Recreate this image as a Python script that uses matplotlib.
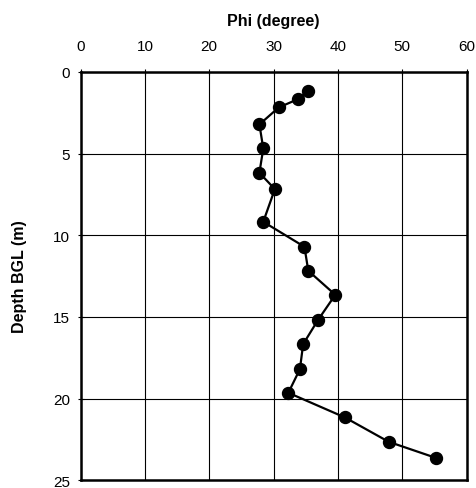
import matplotlib
matplotlib.use("Agg")
import matplotlib.pyplot as plt

plt.rcParams['font.family'] = ['Liberation Sans', 'DejaVu Sans']

phi = [35.4, 33.8, 30.8, 27.8, 28.4, 27.8, 30.2, 28.4, 34.8, 35.4,
       39.6, 36.9, 34.6, 34.1, 32.3, 41.1, 47.9, 55.2]
depth = [1.16, 1.67, 2.18, 3.22, 4.69, 6.18, 7.18, 9.18, 10.71, 12.18,
         13.65, 15.2, 16.67, 18.2, 19.65, 21.16, 22.65, 23.63]

xticks = [0, 10, 20, 30, 40, 50, 60]
yticks = [0, 5, 10, 15, 20, 25]

fig = plt.figure(figsize=(4.77, 4.89), dpi=100)
ax = fig.add_axes([0.169, 0.016, 0.809, 0.835])

ax.plot(phi, depth, color='black', lw=1.6, marker='o', ms=8.6, zorder=3)

ax.set_xlim(0, 60)
ax.set_ylim(25, 0)
ax.set_xticks(xticks)
ax.set_yticks(yticks)
ax.xaxis.tick_top()
ax.xaxis.set_label_position('top')
ax.tick_params(direction='inout', length=5, width=0.8, labelsize=11, colors='black')
ax.tick_params(axis='x', pad=11)
ax.tick_params(axis='y', pad=5)
ax.grid(True, color='black', lw=0.8)
for s in ax.spines.values():
    s.set_linewidth(1.8)

ax.set_xlabel('Phi (degree)', fontsize=11.5, fontweight='bold', labelpad=10)
ax.set_ylabel('Depth BGL (m)', fontsize=11.5, fontweight='bold', labelpad=19)

fig.savefig('out.png', dpi=100)
